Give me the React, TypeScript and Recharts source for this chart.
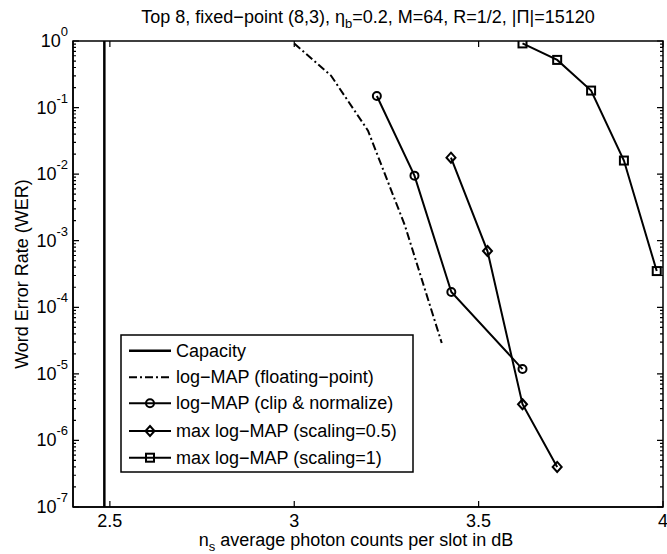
import React from "react";
import { LineChart, Line, XAxis, YAxis } from "recharts";

// values (x in dB, y = WER)
const capacityX = [2.485, 2.485];
const capacityY = [1e-7, 1];

const floatX = [3.0, 3.1, 3.2, 3.3, 3.4];
const floatY = [0.92, 0.3, 0.045, 0.0017, 2.9e-5];

const clipX = [3.224, 3.326, 3.426, 3.619];
const clipY = [0.149, 0.0095, 1.7e-4, 1.18e-5];

const halfX = [3.425, 3.524, 3.619, 3.713];
const halfY = [0.0177, 7e-4, 3.5e-6, 4.0e-7];

const oneX = [3.619, 3.713, 3.805, 3.894, 3.983];
const oneY = [0.92, 0.52, 0.18, 0.016, 3.5e-4];

const xTicks = [2.5, 3, 3.5, 4];
const yExponents = [-7, -6, -5, -4, -3, -2, -1, 0];
const minorMantissas = [2, 3, 4, 5, 6, 7, 8, 9];

const legendNames = [
  "Capacity",
  "log\u2212MAP (floating\u2212point)",
  "log\u2212MAP (clip & normalize)",
  "max log\u2212MAP (scaling=0.5)",
  "max log\u2212MAP (scaling=1)",
];

const zip = (xs: number[], ys: number[]) => xs.map((x, i) => ({ x, y: ys[i] }));

const majorTicks = yExponents.map((e) => Math.pow(10, e));
const minorTicks = yExponents.slice(0, -1).flatMap((e) => minorMantissas.map((m) => m * Math.pow(10, e)));
const yTicks = [...majorTicks, ...minorTicks].sort((a, b) => a - b);

// page has a default 8px margin, drop it so the chart fills the window
if (typeof document !== "undefined") {
  document.body.style.margin = "0";
  document.body.style.overflow = "hidden";
}

const W = 667;
const H = 554;
const PL = 73;
const PR = 663;
const PT = 41;
const PB = 507;
const FONT = "'Liberation Sans', Arial, Helvetica, sans-serif";
const FS = 18;

const YTick = (props: any) => {
  const { y, payload } = props;
  const v = payload.value;
  const e = Math.round(Math.log10(v));
  const major = Math.abs(v - Math.pow(10, e)) < Math.pow(10, e) * 1e-6;
  const len = major ? 6 : 3;
  return (
    <g>
      <path d={`M${PL},${y}h${len}M${PR},${y}h${-len}`} stroke="#000" strokeWidth={1.2} fill="none" />
      {major && (
        <text x={PL - 5} y={y + 6} textAnchor="end" fontFamily={FONT} fontSize={FS} fill="#000">
          10
          <tspan dy={-11} fontSize={13}>{e}</tspan>
        </text>
      )}
    </g>
  );
};

const XTick = (props: any) => {
  const { x, payload } = props;
  return (
    <g>
      <path d={`M${x},${PB}v-6M${x},${PT}v6`} stroke="#000" strokeWidth={1.2} fill="none" />
      <text x={x} y={PB + 20} textAnchor="middle" fontFamily={FONT} fontSize={FS} fill="#000">
        {payload.value}
      </text>
    </g>
  );
};

const circleDot = (p: any) => (
  <circle key={p.index} cx={p.cx} cy={p.cy} r={4} fill="none" stroke="#000" strokeWidth={2} />
);
const diamondDot = (p: any) => (
  <polygon
    key={p.index}
    points={`${p.cx},${p.cy - 5} ${p.cx + 4.5},${p.cy} ${p.cx},${p.cy + 5} ${p.cx - 4.5},${p.cy}`}
    fill="none"
    stroke="#000"
    strokeWidth={2}
  />
);
const squareDot = (p: any) => (
  <rect key={p.index} x={p.cx - 4} y={p.cy - 4} width={8} height={8} fill="none" stroke="#000" strokeWidth={2} />
);

const Legend = () => {
  const rows = [15.7, 42.3, 68.3, 96, 122.7];
  return (
    <svg width={294} height={139} style={{ position: "absolute", left: 120, top: 334 }}>
      <rect x={1} y={1} width={292} height={137} fill="#fff" stroke="#000" strokeWidth={1.5} />
      {legendNames.map((name, i) => {
        const y = rows[i] + 1;
        const cx = 30;
        return (
          <g key={name}>
            <line
              x1={9}
              x2={51}
              y1={y}
              y2={y}
              stroke="#000"
              strokeWidth={i === 0 ? 2.5 : 2}
              strokeDasharray={i === 1 ? "8 3 2 3" : undefined}
            />
            {i === 2 && circleDot({ cx, cy: y, index: 0 })}
            {i === 3 && diamondDot({ cx, cy: y, index: 0 })}
            {i === 4 && squareDot({ cx, cy: y, index: 0 })}
            <text x={56} y={y + 6} fontFamily={FONT} fontSize={FS} fill="#000">
              {name}
            </text>
          </g>
        );
      })}
    </svg>
  );
};

const App: React.FC = () => (
  <div style={{ position: "relative", width: W, height: H, background: "#fff", overflow: "hidden" }}>
    <LineChart width={W} height={H} margin={{ top: PT, right: W - PR, left: 0, bottom: 0 }}>
      <XAxis
        dataKey="x"
        type="number"
        domain={[2.4, 4]}
        ticks={xTicks}
        interval={0}
        allowDataOverflow
        axisLine={{ stroke: "#000", strokeWidth: 1.5 }}
        tickLine={false}
        tick={<XTick />}
        height={H - PB}
      />
      <YAxis
        dataKey="y"
        scale="log"
        domain={[1e-7, 1]}
        ticks={yTicks}
        interval={0}
        allowDataOverflow
        axisLine={{ stroke: "#000", strokeWidth: 1.5 }}
        tickLine={false}
        tick={<YTick />}
        width={PL}
      />
      <Line data={zip(capacityX, capacityY)} dataKey="y" stroke="#000" strokeWidth={2.5} dot={false} isAnimationActive={false} />
      <Line
        data={zip(floatX, floatY)}
        dataKey="y"
        stroke="#000"
        strokeWidth={2}
        strokeDasharray="8 3 2 3"
        dot={false}
        isAnimationActive={false}
      />
      <Line data={zip(clipX, clipY)} dataKey="y" stroke="#000" strokeWidth={2} dot={circleDot} isAnimationActive={false} />
      <Line data={zip(halfX, halfY)} dataKey="y" stroke="#000" strokeWidth={2} dot={diamondDot} isAnimationActive={false} />
      <Line data={zip(oneX, oneY)} dataKey="y" stroke="#000" strokeWidth={2} dot={squareDot} isAnimationActive={false} />
    </LineChart>
    <svg width={W} height={H} style={{ position: "absolute", left: 0, top: 0, pointerEvents: "none" }}>
      <path
        d={`M${PL},${PT}H${PR}V${PB}H${PL}Z`}
        fill="none"
        stroke="#000"
        strokeWidth={1.5}
      />
      <text x={368} y={23} textAnchor="middle" fontFamily={FONT} fontSize={FS} fill="#000">
        Top 8, fixed{"\u2212"}point (8,3), {"\u03b7"}
        <tspan dy={5} fontSize={13}>b</tspan>
        <tspan dy={-5}>=0.2, M=64, R=1/2, |{"\u03a0"}|=15120</tspan>
      </text>
      <text
        x={22}
        y={274}
        textAnchor="middle"
        dominantBaseline="central"
        transform="rotate(-90 22 274)"
        fontFamily={FONT}
        fontSize={FS}
        fill="#000"
      >
        Word Error Rate (WER)
      </text>
      <text x={356} y={546} textAnchor="middle" fontFamily={FONT} fontSize={FS} fill="#000">
        n<tspan dy={5} fontSize={13}>s</tspan>
        <tspan dy={-5}> average photon counts per slot in dB</tspan>
      </text>
    </svg>
    <Legend />
  </div>
);

export default App;
